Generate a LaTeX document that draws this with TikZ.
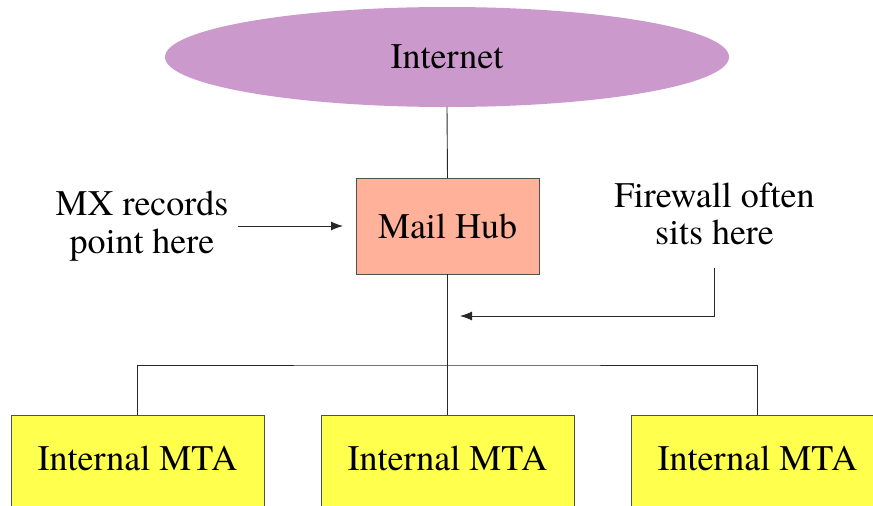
\documentclass[tikz,border=0pt]{standalone}
\usepackage{fontspec}
\setmainfont{TeX Gyre Termes}
\definecolor{net}{RGB}{204,153,204}
\definecolor{hub}{RGB}{255,178,153}
\definecolor{mta}{RGB}{255,255,77}
\definecolor{wire}{RGB}{40,40,40}
\definecolor{rim}{RGB}{80,80,80}
\usetikzlibrary{arrows.meta}
\usetikzlibrary{shapes.geometric}
\tikzstyle{base}=[x=1pt, y=-1pt, inner sep=0pt, outer sep=0pt, line width=0.9pt, wire]
\tikzstyle{netbox}=[ellipse, fill=net, minimum width=564pt, minimum height=100pt, text=black]
\tikzstyle{hubbox}=[rectangle, draw=rim, fill=hub, minimum width=183pt, minimum height=96pt, text=black]
\tikzstyle{mtabox}=[rectangle, draw=rim, fill=mta, minimum width=253pt, minimum height=96pt, text depth=10pt, text=black]
\tikzstyle{note}=[align=center, text=black]
\tikzstyle{pointer}=[-{Latex[length=12pt, width=9pt]}]

\begin{document}
\begin{tikzpicture}[base]
    \fontsize{36}{37.5}\selectfont
        \path [use as bounding box, clip] (0,0) rectangle (873,506);
        \node [netbox] (net) at (447,57) {Internet};
        \node [hubbox] (mailhub) at (447.5,226) {Mail Hub};
        \node [mtabox] (mtaA) at (137.5,463) {Internal MTA};
        \node [mtabox] (mtaB) at (447.5,463) {Internal MTA};
        \node [mtabox] (mtaC) at (757.5,463) {Internal MTA};
        \node [note] (mx) at (142,226) {MX records\\point here};
        \node [note] (fw) at (714.5,214) {Firewall often\\sits here};
        \coordinate (bus) at (447,365);
        \coordinate (fwtip) at (460,316);
        \draw (net.south) -- (mailhub.north);
        \draw (mailhub.south) -- (mtaB.north);
        \draw (mtaA.north) |- (bus) -| (mtaC.north);
        \draw [pointer, shorten <=10pt, shorten >=13pt] (mx.east) -- (mailhub.west);
        \draw [pointer, shorten <=23pt] (fw.south) |- (fwtip);
    \end{tikzpicture}
\end{document}
